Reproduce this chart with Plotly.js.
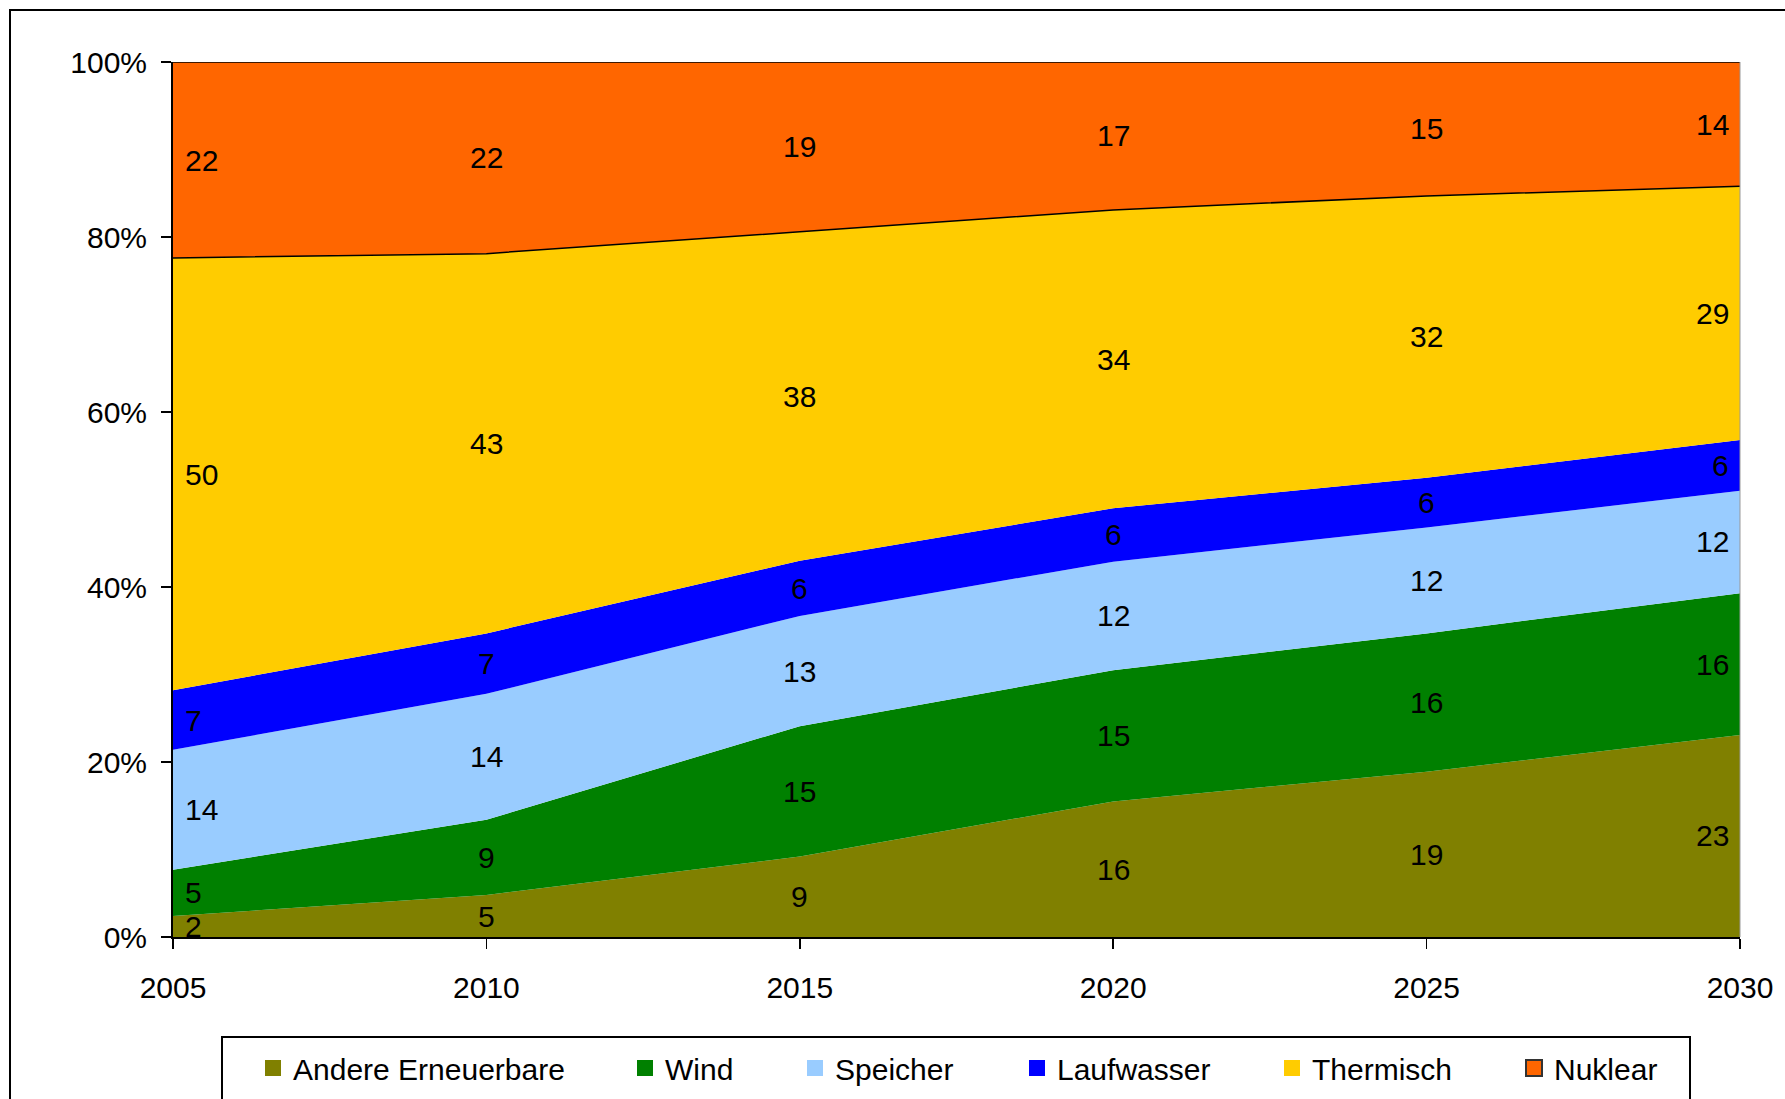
<!DOCTYPE html>
<html><head><meta charset="utf-8">
<script src="https://cdn.plot.ly/plotly-3.0.1.min.js"></script>
<style>html,body{margin:0;padding:0;background:#fff;} #chart{width:1785px;height:1099px;}</style>
</head><body><div id="chart"></div>
<script>
// ---- data ----
const years = [2005, 2010, 2015, 2020, 2025, 2030];
const seriesNames = ['Andere Erneuerbare', 'Wind', 'Speicher', 'Laufwasser', 'Thermisch', 'Nuklear'];
const andere     = [2.4, 4.8, 9.2, 15.5, 18.9, 23.1];
const wind       = [5.3, 8.6, 14.9, 15.0, 15.8, 16.2];
const speicher   = [13.7, 14.4, 12.6, 12.4, 12.1, 11.7];
const laufwasser = [6.8, 6.9, 6.3, 6.1, 5.7, 5.8];
const thermisch  = [49.4, 43.4, 37.6, 34.1, 32.2, 29.0];
const nuklear    = [22.4, 21.9, 19.4, 16.9, 15.3, 14.2];
const labelsAndere     = ['2', '5', '9', '16', '19', '23'];
const labelsWind       = ['5', '9', '15', '15', '16', '16'];
const labelsSpeicher   = ['14', '14', '13', '12', '12', '12'];
const labelsLaufwasser = ['7', '7', '6', '6', '6', '6'];
const labelsThermisch  = ['50', '43', '38', '34', '32', '29'];
const labelsNuklear    = ['22', '22', '19', '17', '15', '14'];
const yTicks = [0, 20, 40, 60, 80, 100];
const yTickText = ['0%', '20%', '40%', '60%', '80%', '100%'];

// ---- styles ----
const colors = ['#808000', '#008000', '#99CCFF', '#0000FF', '#FFCC00', '#FF6600'];
const FONT = 'Liberation Sans, Arial, Helvetica, sans-serif';
const FS = 30;
const W = 1785, H = 1099;
const legendCenters = [273, 645, 815, 1037, 1292, 1534];

const series = [andere, wind, speicher, laufwasser, thermisch, nuklear];
const labels = [labelsAndere, labelsWind, labelsSpeicher, labelsLaufwasser, labelsThermisch, labelsNuklear];

// normalise to percent per year
const totals = years.map((_, j) => series.reduce((s, arr) => s + arr[j], 0));
const pct = series.map(arr => arr.map((v, j) => v / totals[j] * 100));

const traces = [];
series.forEach((arr, i) => {
  const black = (i >= 4);
  traces.push({
    x: years, y: arr, type: 'scatter', mode: 'lines', stackgroup: 'one',
    groupnorm: 'percent', fillcolor: colors[i],
    line: black ? {color: '#000', width: 1.5} : {color: colors[i], width: 0},
    showlegend: false, hoverinfo: 'skip', name: seriesNames[i]
  });
});

const layout = {
  width: W, height: H,
  margin: {l: 173, r: 45, t: 62, b: 162, pad: 0, autoexpand: false},
  paper_bgcolor: '#fff', plot_bgcolor: '#fff',
  font: {family: FONT, size: FS, color: '#000'},
  xaxis: {
    range: [2005, 2030], tickvals: years, showline: true, linecolor: '#000', linewidth: 2,
    ticks: 'outside', ticklen: 10, tickwidth: 1.5, tickcolor: '#000',
    showgrid: false, zeroline: false, tickfont: {family: FONT, size: FS, color: '#000'},
    ticklabelstandoff: 13, fixedrange: true
  },
  yaxis: {
    range: [0, 100], tickmode: 'array', tickvals: yTicks, ticktext: yTickText,
    showline: true, linecolor: '#000', linewidth: 2,
    ticks: 'outside', ticklen: 10, tickwidth: 1.5, tickcolor: '#000',
    showgrid: false, zeroline: false, tickfont: {family: FONT, size: FS, color: '#000'},
    ticklabelstandoff: 8, fixedrange: true
  },
  annotations: [],
  shapes: [
    // outer chart frame (cropped on right and bottom)
    {type: 'rect', xref: 'paper', yref: 'paper', x0: (10 - 173) / 1567, x1: 1.2, y0: -0.5, y1: (937 - 10) / 875,
     line: {color: '#000', width: 2}, fillcolor: 'rgba(0,0,0,0)', layer: 'below'},
    // legend box
    {type: 'rect', xref: 'paper', yref: 'paper', x0: (222 - 173) / 1567, x1: (1690 - 173) / 1567, y0: -0.4, y1: (937 - 1037) / 875,
     line: {color: '#000', width: 2}, fillcolor: 'rgba(0,0,0,0)', layer: 'below'},
    // right plot edge
    {type: 'line', xref: 'paper', yref: 'paper', x0: 1, x1: 1, y0: 0, y1: 1, line: {color: '#999', width: 1}}
  ]
};

// data labels
series.forEach((arr, i) => {
  years.forEach((yr, j) => {
    let base = 0;
    for (let k = 0; k < i; k++) base += pct[k][j];
    const mid = base + pct[i][j] / 2;
    const first = j === 0, last = j === years.length - 1;
    layout.annotations.push({
      x: yr, y: mid, xref: 'x', yref: 'y', text: labels[i][j], showarrow: false,
      xanchor: first ? 'left' : (last ? 'right' : 'center'), yanchor: 'middle',
      xshift: first ? 10 : (last ? -9 : 0),
      font: {family: FONT, size: FS, color: '#000'}
    });
  });
});

// legends: one per series so they can be placed like the original
seriesNames.forEach((n, i) => {
  const key = i === 0 ? 'legend' : 'legend' + (i + 1);
  traces.push({
    x: [null], y: [null], type: 'scatter', mode: 'markers', name: n, legend: key, showlegend: true,
    marker: {symbol: 'square', size: 16, color: colors[i],
             line: {color: i === 5 ? '#333' : colors[i], width: i === 5 ? 2 : 0}},
    hoverinfo: 'skip'
  });
  layout[key] = {
    x: (legendCenters[i] - 20) / W, xref: 'container', xanchor: 'left',
    y: 1 - 1068 / H, yref: 'container', yanchor: 'middle',
    orientation: 'h', bgcolor: 'rgba(0,0,0,0)', borderwidth: 0,
    font: {family: FONT, size: FS, color: '#000'}
  };
});

Plotly.newPlot('chart', traces, layout, {displayModeBar: false, staticPlot: true});
</script>
</body></html>
